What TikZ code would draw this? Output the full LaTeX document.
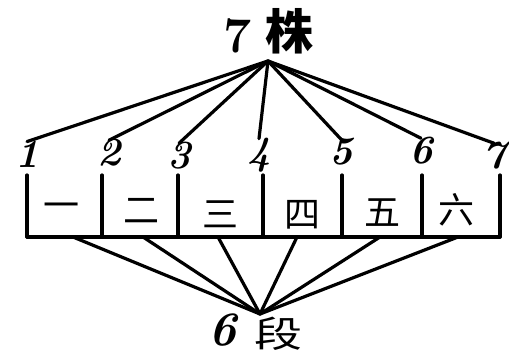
\documentclass[tikz,border=0pt]{standalone}
\usepackage{fontspec}
\newfontfamily\cjk{Noto Sans CJK SC}
\usetikzlibrary{positioning}
\tikzset{
  stroke/.style={line width=3.2pt, line cap=round},
  digit/.style={font=\fontsize{40}{40}\selectfont\bfseries\itshape, inner sep=0pt},
  cell/.style={font=\cjk\fontsize{36}{36}\selectfont, inner sep=0pt},
}

\begin{document}
\begin{tikzpicture}[x=1pt,y=-1pt]
 \useasboundingbox (0,0) rectangle (509,358);
 % labels at top and bottom
 \node[font=\fontsize{50}{50}\selectfont\bfseries, inner sep=0pt] (seven) at (238,36) {7};
 \node[font=\cjk\bfseries\fontsize{48}{48}\selectfont, inner sep=0pt] (zhu) at (289,31) {株};
 \node[font=\fontsize{48}{48}\selectfont\bfseries\itshape, inner sep=0pt] (six) at (223,330) {6};
 \node[font=\cjk\fontsize{48}{48}\selectfont, inner sep=0pt, yscale=0.75] (duan) at (278,334) {段};
 \coordinate (top) at (268,61);
 \coordinate (bot) at (260,314);
 % posts with their numbers
 \foreach \i/\x/\lx/\ly in {1/27/27/154,2/102/109/153,3/178/179/156,4/263/259/155,5/342/341/152,6/422/421/151,7/500/494/156} {
   \node[digit] (d\i) at (\lx,\ly) {\i};
   \draw[stroke] (top) -- ([yshift=-1pt]d\i.north);
   \coordinate (p\i) at (\x,175);
   \coordinate (b\i) at (\x,237);
   \draw[stroke] (p\i) -- (b\i);
 }
 \draw[stroke] (b1) -- (b7);
 % the six sections
 \foreach \i/\t/\x/\y in {1/一/61/211,2/二/141/211,3/三/220/214,4/四/302/215,5/五/382/213,6/六/456/210} {
   \node[cell] (c\i) at (\x,\y) {\t};
 }
 \foreach \i/\x in {1/73,2/143,3/218,4/297,5/380,6/458} {
   \coordinate (q\i) at (\x,237);
   \draw[stroke] (q\i) -- (bot);
 }
\end{tikzpicture}
\end{document}
